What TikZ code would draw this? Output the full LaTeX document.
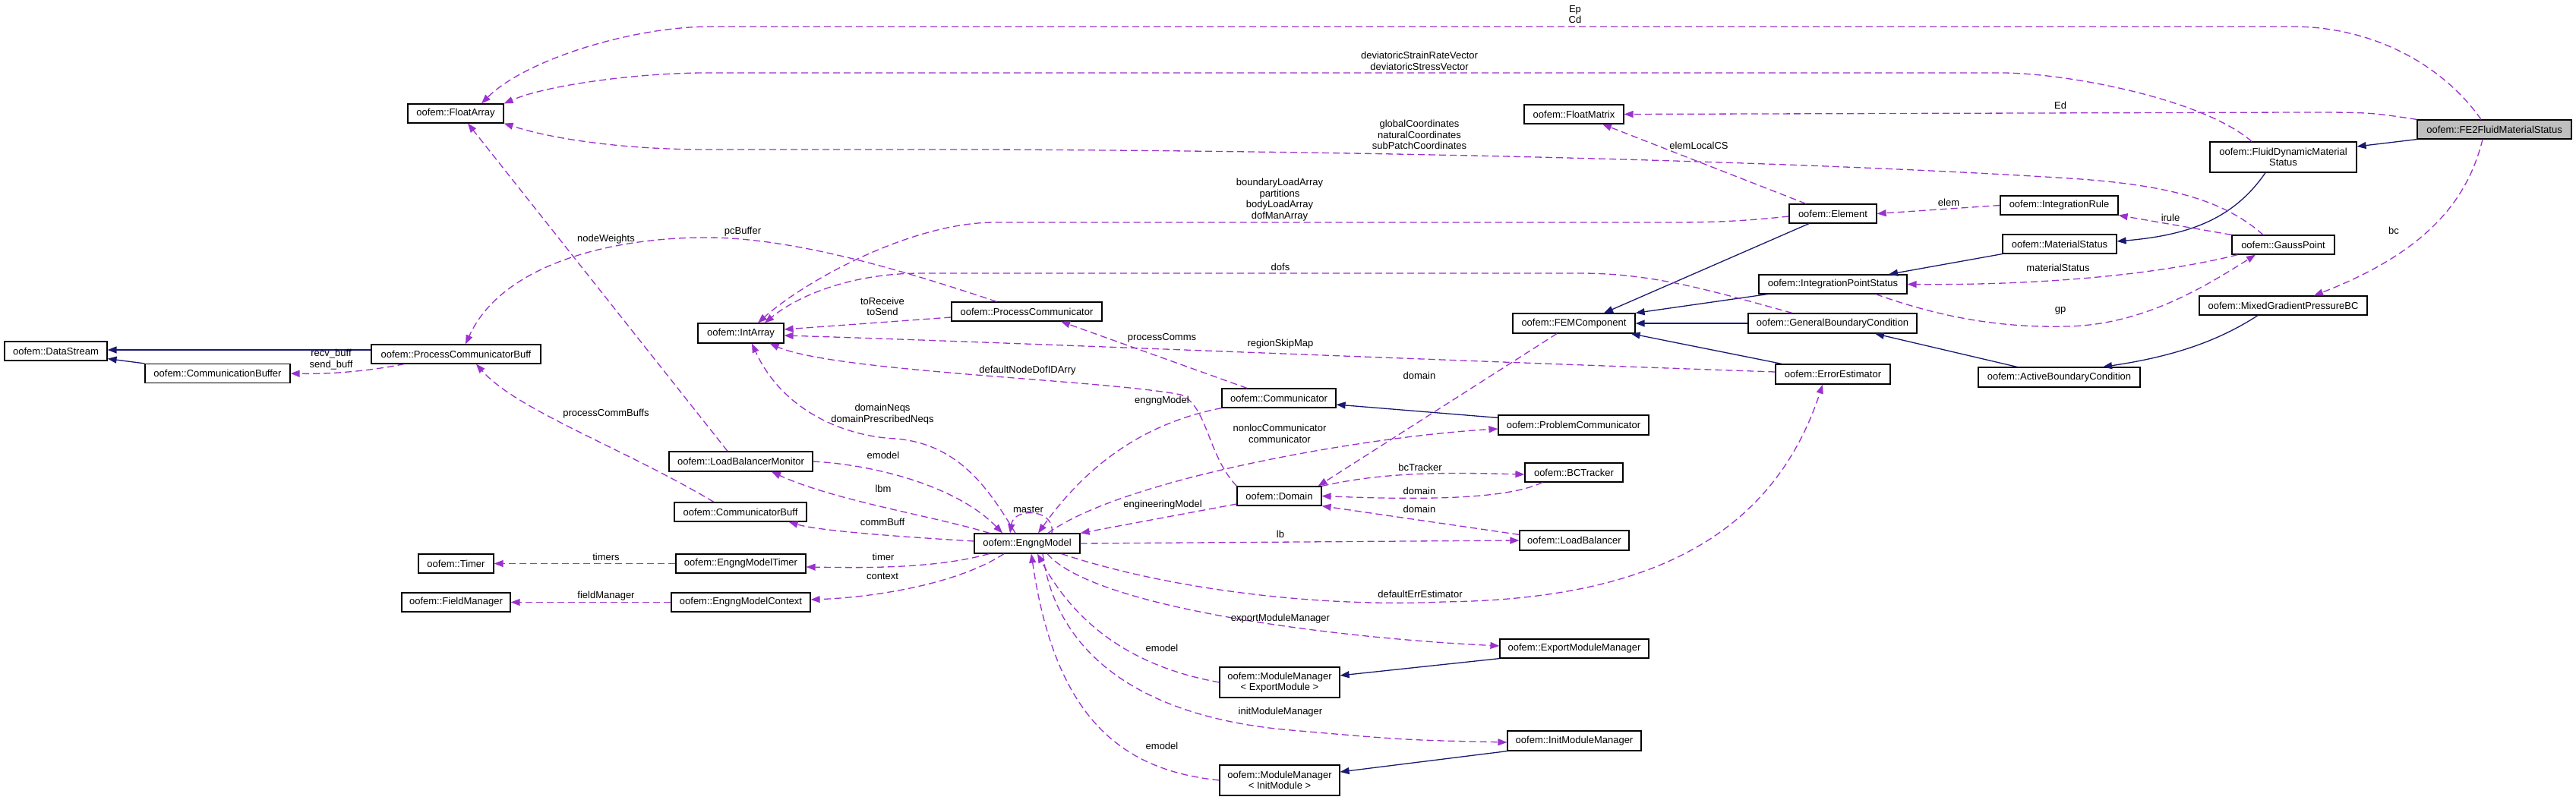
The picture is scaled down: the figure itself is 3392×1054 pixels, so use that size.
\documentclass[tikz,border=0pt]{standalone}
\usepackage{fontspec}
\setmainfont{Liberation Sans}
\usetikzlibrary{arrows.meta}
\definecolor{dorchid}{RGB}{154,50,205}
\definecolor{mnavy}{RGB}{25,25,112}
\definecolor{boxgrey}{RGB}{191,191,191}
\begin{document}
\begin{tikzpicture}[x=1pt,y=-1pt,
  cls/.style={draw=black, line width=1.2pt, fill=white, inner sep=0pt, minimum height=25pt, align=center, font=\fontsize{13}{14.5}\selectfont},
  lbl/.style={inner sep=0pt, align=center, font=\fontsize{13}{14.5}\selectfont},
  dep/.style={draw=dorchid, line width=1.3pt, dash pattern=on 9pt off 5pt, -{Triangle[length=12pt,width=9pt]}},
  inh/.style={draw=mnavy, line width=1.3pt, -{Triangle[length=12pt,width=9pt]}}]
\useasboundingbox (0,0) rectangle (3392,1054);
% ---------- classes ----------
\node[cls, minimum width=126pt] (fa) at (600,149.5) {oofem::FloatArray};
\node[cls, minimum width=135pt] (ds) at (73.5,462.5) {oofem::DataStream};
\node[cls, minimum width=191pt] (cb) at (286.5,492) {oofem::CommunicationBuffer};
\node[cls, minimum width=223pt] (pcb) at (600.5,466.5) {oofem::ProcessCommunicatorBuff};
\node[cls, minimum width=113pt, minimum height=26pt] (ia) at (975.5,439) {oofem::IntArray};
\node[cls, minimum width=131pt] (fm) at (2072.5,150.5) {oofem::FloatMatrix};
\node[cls, minimum width=198pt] (pc) at (1352,410.5) {oofem::ProcessCommunicator};
\node[cls, minimum width=161pt, minimum height=26pt] (fem) at (2072.5,426) {oofem::FEMComponent};
\node[cls, minimum width=150pt] (com) at (1684,524.5) {oofem::Communicator};
\node[cls, minimum width=203pt, fill=boxgrey] (fe2) at (3284.5,170.5) {oofem::FE2FluidMaterialStatus};
\node[cls, minimum width=193pt, minimum height=40pt] (fdms) at (3006.5,207) {oofem::FluidDynamicMaterial\\Status};
\node[cls, minimum width=115pt] (el) at (2413.5,281.5) {oofem::Element};
\node[cls, minimum width=155pt] (ir) at (2711.5,270.5) {oofem::IntegrationRule};
\node[cls, minimum width=150pt] (ms) at (2712,321.5) {oofem::MaterialStatus};
\node[cls, minimum width=135pt] (gpt) at (3006.5,322.5) {oofem::GaussPoint};
\node[cls, minimum width=195pt] (ips) at (2413.5,374.5) {oofem::IntegrationPointStatus};
\node[cls, minimum width=221pt] (mg) at (3006.5,402.5) {oofem::MixedGradientPressureBC};
\node[cls, minimum width=222pt, minimum height=26pt] (gbc) at (2413,426) {oofem::GeneralBoundaryCondition};
\node[cls, minimum width=151pt, minimum height=26pt] (ee) at (2413.5,493) {oofem::ErrorEstimator};
\node[cls, minimum width=213pt, minimum height=26pt] (abc) at (2711.5,497) {oofem::ActiveBoundaryCondition};
\node[cls, minimum width=189pt, minimum height=26pt] (lbm) at (975.5,608) {oofem::LoadBalancerMonitor};
\node[cls, minimum width=174pt] (cbf) at (975,674.5) {oofem::CommunicatorBuff};
\node[cls, minimum width=99pt] (tim) at (600.5,742.5) {oofem::Timer};
\node[cls, minimum width=171pt] (emt) at (975.5,742.5) {oofem::EngngModelTimer};
\node[cls, minimum width=143pt] (fmg) at (600.5,793.5) {oofem::FieldManager};
\node[cls, minimum width=183pt] (emc) at (975.5,793.5) {oofem::EngngModelContext};
\node[cls, minimum width=139pt, minimum height=26pt] (em) at (1352.5,716) {oofem::EngngModel};
\node[cls, minimum width=198pt, minimum height=26pt] (prc) at (2072,560) {oofem::ProblemCommunicator};
\node[cls, minimum width=129pt] (bct) at (2072.5,622.5) {oofem::BCTracker};
\node[cls, minimum width=111pt] (dom) at (1684.5,653.5) {oofem::Domain};
\node[cls, minimum width=144pt, minimum height=26pt] (lb) at (2073,712) {oofem::LoadBalancer};
\node[cls, minimum width=196pt] (emm) at (2073,854.5) {oofem::ExportModuleManager};
\node[cls, minimum width=158pt, minimum height=40pt] (mmem) at (1685,899) {oofem::ModuleManager\\< ExportModule >};
\node[cls, minimum width=176pt, minimum height=26pt] (imm) at (2073,976) {oofem::InitModuleManager};
\node[cls, minimum width=158pt, minimum height=40pt] (mmim) at (1685,1028) {oofem::ModuleManager\\< InitModule >};
% ---------- inheritance ----------
\draw[inh] (fe2.south west) -- ([yshift=14pt]fdms.east);
\draw[inh] ([xshift=-23.5pt]fdms.south) .. controls (2940,290) and (2880,310) .. ([yshift=3.5pt]ms.east);
\draw[inh] (ms.south west) -- ([xshift=73.5pt]ips.north);
\draw[inh] ([xshift=-31.5pt]el.south) -- ([xshift=39.5pt]fem.north);
\draw[inh] ([xshift=12pt]ips.south west) -- (fem.north east);
\draw[inh] (gbc.west) -- (fem.east);
\draw[inh] ([xshift=9pt]ee.north west) -- ([xshift=-6pt]fem.south east);
\draw[inh] ([xshift=-55.5pt]abc.north) -- ([xshift=56pt]gbc.south);
\draw[inh] ([xshift=-33.5pt]mg.south) .. controls (2920,450) and (2860,470) .. ([xshift=57.5pt]abc.north);
\draw[inh] ([yshift=5.5pt]pcb.west) -- ([yshift=1.5pt]ds.east);
\draw[inh] (cb.north west) -- ([yshift=3pt]ds.south east);
\draw[inh] ([yshift=-4pt]prc.north west) -- ([yshift=-8.5pt]com.east);
\draw[inh] (emm.south west) -- ([yshift=9pt]mmem.east);
\draw[inh] (imm.south west) -- ([yshift=11pt]mmim.east);
% ---------- usage ----------
\draw[dep] ([xshift=-17.5pt]fe2.north) .. controls (3220,90) and (3130,35) .. (3018,35) -- (937,35) .. controls (830,35) and (690,80) .. ([xshift=34pt]fa.north);
\draw[dep] ([xshift=-41.5pt]fdms.north) .. controls (2900,130) and (2720,96) .. (2635,96) -- (930,96) .. controls (840,96) and (720,112) .. (fa.north east);
\draw[dep] ([xshift=-26.5pt]gpt.north) .. controls (2930,265) and (2860,245) .. (2740,236) .. controls (2500,220) and (2000,200) .. (1300,197) -- (930,197) .. controls (840,197) and (740,187) .. (fa.south east);
\draw[dep] (fe2.north west) .. controls (3120,148) .. (3030,148) -- (fm.east);
\draw[dep] ([xshift=-15.5pt]fe2.south) .. controls (3250,260) and (3200,330) .. ([xshift=40.5pt]mg.north);
\draw[dep] ([xshift=-35.5pt]el.north) -- ([xshift=37.5pt]fm.south);
\draw[dep] ([yshift=-3.5pt]el.west) .. controls (2300,291) and (2260,293) .. (2200,293) -- (1310,293) .. controls (1200,293) and (1060,370) .. ([xshift=22.5pt]ia.north);
\draw[dep] ([xshift=-53pt]gbc.north) .. controls (2260,385) and (2180,360) .. (2081,360) -- (1213,360) .. controls (1120,360) and (1050,390) .. ([xshift=31.5pt]ia.north);
\draw[dep] (ir.west) -- (el.east);
\draw[dep] (gpt.north west) -- (ir.south east);
\draw[dep] ([xshift=8pt]gpt.south west) .. controls (2850,360) and (2700,376) .. (ips.east);
\draw[dep] ([xshift=56.5pt]ips.south) .. controls (2560,420) and (2640,432) .. (2722,430) .. controls (2820,428) and (2900,380) .. ([xshift=-36.5pt]gpt.south);
\draw[dep] ([yshift=3pt]ee.west) .. controls (1900,475) and (1300,450) .. ([yshift=-3pt]ia.east);
\draw[dep] ([yshift=-7.5pt]pc.west) -- ([yshift=5pt]ia.east);
\draw[dep] (dom.north west) .. controls (1590,600) and (1590,535) .. (1555,520) .. controls (1450,500) and (1100,490) .. ([xshift=-19pt]ia.south east);
\draw[dep] ([xshift=-15.5pt]em.north) .. controls (1300,640) and (1260,585) .. (1180,578) .. controls (1110,575) and (1030,540) .. ([xshift=14.5pt]ia.south);
\draw[dep] ([xshift=-17.5pt]lbm.north) -- ([xshift=16pt]fa.south);
\draw[dep] ([xshift=-35pt]cbf.north) .. controls (820,590) and (680,540) .. ([xshift=26.5pt]pcb.south);
\draw[dep] ([xshift=60pt]pc.north west) .. controls (1200,360) and (1050,313) .. (930,313) .. controls (800,313) and (660,350) .. ([xshift=12.5pt]pcb.north);
\draw[dep] ([xshift=44pt]pcb.south west) .. controls (480,490) and (430,493) .. (cb.east);
\draw[dep] ([xshift=-42pt]com.north) -- ([xshift=45pt]pc.south);
\draw[dep] ([xshift=-22.5pt]fem.south) -- ([xshift=-5pt]dom.north east);
\draw[dep] (com.south west) .. controls (1520,555) and (1440,600) .. ([xshift=14.5pt]em.north);
\draw[dep] ([xshift=27.5pt]em.north) .. controls (1480,630) and (1800,575) .. ([yshift=-5pt]prc.west);
\draw[dep] (dom.north east) .. controls (1830,620) and (1920,623) .. ([yshift=-2.5pt]bct.west);
\draw[dep] ([xshift=-41.5pt]bct.south) .. controls (1990,655) and (1900,660) .. (dom.east);
\draw[dep] ([yshift=-6pt]lb.north west) -- (dom.south east);
\draw[dep] ([yshift=-10.5pt]dom.west) -- (em.north east);
\draw[dep] (em.east) -- (lb.west);
\draw[dep] ([xshift=-25pt]em.south east) .. controls (1550,780) and (1750,800) .. (1900,793) .. controls (2150,790) and (2330,720) .. ([xshift=-13.5pt]ee.south);
\draw[dep] ([xshift=26.5pt]em.south) .. controls (1440,800) and (1750,840) .. ([yshift=3.5pt]emm.west);
\draw[dep] (mmem.west) .. controls (1500,880) and (1420,830) .. ([xshift=13.5pt]em.south);
\draw[dep] ([xshift=20.5pt]em.south) .. controls (1390,860) and (1500,945) .. (1700,962) .. controls (1850,975) .. ([yshift=-2pt]imm.west);
\draw[dep] (mmim.west) .. controls (1480,1015) and (1390,950) .. ([xshift=5.5pt]em.south);
\draw[dep] ([xshift=32.5pt]em.north) .. controls (1390,670) and (1335,668) .. ([xshift=-22.5pt]em.north);
\draw[dep] (lbm.east) .. controls (1150,612) and (1260,640) .. ([xshift=-32.5pt]em.north);
\draw[dep] ([xshift=-49.5pt]em.north) .. controls (1230,680) and (1100,660) .. ([xshift=40.5pt]lbm.south);
\draw[dep] ([yshift=3pt]em.west) .. controls (1200,708) and (1080,700) .. ([xshift=-24pt]cbf.south east);
\draw[dep] ([xshift=20pt]em.south west) .. controls (1230,750) and (1130,748) .. ([yshift=-4.5pt]emt.east);
\draw[dep] ([xshift=-30.5pt]em.south) .. controls (1260,770) and (1150,787) .. ([yshift=3.5pt]emc.east);
\draw[dep] (emt.west) -- (tim.east);
\draw[dep] (emc.west) -- (fmg.east);
% ---------- labels ----------
\node[lbl] (l1) at (2074,19) {Ep\\Cd};
\node[lbl] (l2) at (1869,80.5) {deviatoricStrainRateVector\\deviatoricStressVector};
\node[lbl] (l3) at (1869,177.5) {globalCoordinates\\naturalCoordinates\\subPatchCoordinates};
\node[lbl] (l4) at (2713,139) {Ed};
\node[lbl] (l5) at (3152,304) {bc};
\node[lbl] (l6) at (2237,192) {elemLocalCS};
\node[lbl] (l7) at (1685,263) {boundaryLoadArray\\partitions\\bodyLoadArray\\dofManArray};
\node[lbl] (l8) at (1686,352) {dofs};
\node[lbl] (l9) at (2566,267) {elem};
\node[lbl] (l10) at (2858,287) {irule};
\node[lbl] (l11) at (2710,353) {materialStatus};
\node[lbl] (l12) at (2713,409) {gp};
\node[lbl] (l13) at (1686,453) {regionSkipMap};
\node[lbl] (l14) at (1162,404) {toReceive\\toSend};
\node[lbl] (l15) at (1353,488) {defaultNodeDofIDArry};
\node[lbl] (l16) at (1162,545.5) {domainNeqs\\domainPrescribedNeqs};
\node[lbl] (l17) at (798,315) {nodeWeights};
\node[lbl] (l18) at (798,545) {processCommBuffs};
\node[lbl] (l19) at (978,305) {pcBuffer};
\node[lbl] (l20) at (436,473.5) {recv\_buff\\send\_buff};
\node[lbl] (l21) at (1530,445) {processComms};
\node[lbl] (l22) at (1869,495) {domain};
\node[lbl] (l23) at (1530,528) {engngModel};
\node[lbl] (l24) at (1685,571.5) {nonlocCommunicator\\communicator};
\node[lbl] (l25) at (1870,616) {bcTracker};
\node[lbl] (l26) at (1869,647) {domain};
\node[lbl] (l27) at (1869,671) {domain};
\node[lbl] (l28) at (1531,665) {engineeringModel};
\node[lbl] (l29) at (1686,704) {lb};
\node[lbl] (l30) at (1870,783) {defaultErrEstimator};
\node[lbl] (l31) at (1686,815) {exportModuleManager};
\node[lbl] (l32) at (1530,854) {emodel};
\node[lbl] (l33) at (1686,938) {initModuleManager};
\node[lbl] (l34) at (1530,983) {emodel};
\node[lbl] (l35) at (1354,671) {master};
\node[lbl] (l36) at (1163,600) {emodel};
\node[lbl] (l37) at (1163,644) {lbm};
\node[lbl] (l38) at (1162,688) {commBuff};
\node[lbl] (l39) at (1163,734) {timer};
\node[lbl] (l40) at (1162,759) {context};
\node[lbl] (l41) at (798,734) {timers};
\node[lbl] (l42) at (798,785) {fieldManager};
\end{tikzpicture}
\end{document}
